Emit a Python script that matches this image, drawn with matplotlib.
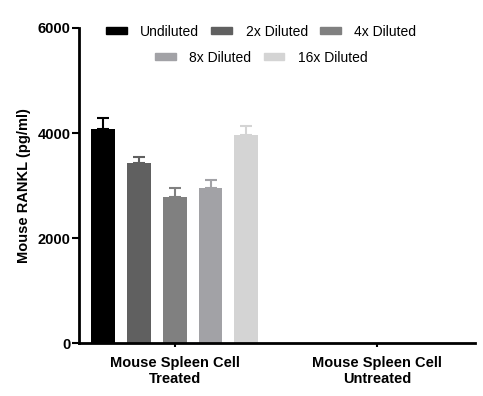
import numpy as np
import matplotlib.pyplot as plt
from matplotlib.patches import Patch

plt.rcParams["font.family"] = ["Liberation Sans", "DejaVu Sans"]

groups = ["Mouse Spleen Cell\nTreated", "Mouse Spleen Cell\nUntreated"]
series = ["Undiluted", "2x Diluted", "4x Diluted", "8x Diluted", "16x Diluted"]
colors = ["#000000", "#606060", "#808080", "#a2a2a6", "#d4d4d4"]
means = [
    [4076, 0],
    [3434, 0],
    [2781, 0],
    [2952, 0],
    [3968, 0],
]
errs = [
    [214, 0],
    [109, 0],
    [165, 0],
    [153, 0],
    [159, 0],
]

fig = plt.figure(figsize=(4.83, 3.96), dpi=100)
ax = fig.add_axes([0.1636, 0.1338, 0.8194, 0.7955])

x = np.arange(len(groups))
w = 0.118
step = 0.177
for i, (name, c) in enumerate(zip(series, colors)):
    pos = x + (i - 2) * step
    ax.bar(pos, means[i], width=w, color=c, label=name, zorder=2)
    # only draw error bars where there is a value
    e = np.array(errs[i])
    m = np.array(means[i])
    keep = m > 0
    ax.errorbar(pos[keep], m[keep], yerr=[np.zeros(keep.sum()), e[keep]],
                fmt="none", ecolor=c, elinewidth=1.5, capsize=4, capthick=1.5, zorder=1)

ax.set_xlim(-0.473, 1.483)
ax.set_ylim(0, 6000)
ax.set_yticks([0, 2000, 4000, 6000])
ax.set_xticks(x)
ax.set_xticklabels(groups, fontsize=10.5, fontweight="bold")
for lab in ax.get_yticklabels():
    lab.set_fontweight("bold")
    lab.set_fontsize(10.5)
ax.set_ylabel("Mouse RANKL (pg/ml)", fontsize=10.5, fontweight="bold", labelpad=5)
ax.tick_params(axis="y", length=5, width=1.5, pad=1)
ax.tick_params(axis="x", length=3, width=1.5, pad=6)
for s in ["top", "right"]:
    ax.spines[s].set_visible(False)
for s in ["left", "bottom"]:
    ax.spines[s].set_linewidth(2)

handles = [Patch(color=c) for c in colors]
kw = dict(frameon=False, fontsize=10, handlelength=1.5, handleheight=0.4,
          columnspacing=0.9, handletextpad=0.95, loc="upper center")
leg1 = ax.legend(handles[:3], series[:3], ncol=3, bbox_to_anchor=(0.46, 1.05), **kw)
ax.add_artist(leg1)
ax.legend(handles[3:], series[3:], ncol=2, bbox_to_anchor=(0.46, 0.968), **kw)

fig.savefig("out.png", dpi=100)
